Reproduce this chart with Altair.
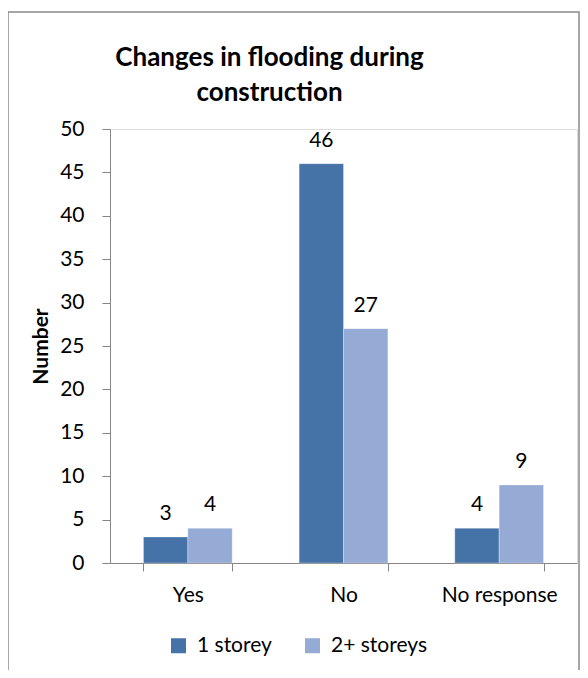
import altair as alt
import pandas as pd

categories = ["Yes", "No", "No response"]
series = ["1 storey", "2+ storeys"]
one_storey = [3, 46, 4]
two_plus = [4, 27, 9]
y_ticks = [0, 5, 10, 15, 20, 25, 30, 35, 40, 45, 50]
colors = ["#4572A7", "#95ABD5"]

rows = []
for i, c in enumerate(categories):
    rows.append({"Response": c, "Series": series[0], "Number": one_storey[i]})
    rows.append({"Response": c, "Series": series[1], "Number": two_plus[i]})
df = pd.DataFrame(rows)

FONT = "Lato"
AX = "#868686"
W, H = 467, 434

x_enc = alt.X(
    "Response:N",
    sort=categories,
    scale=alt.Scale(paddingInner=0.43, paddingOuter=0.215),
    axis=alt.Axis(
        title=None, labelAngle=0, tickBand="extent", domainColor=AX, tickColor=AX,
        tickSize=8, labelFontSize=21, labelFont=FONT, labelColor="#000000",
        labelPadding=13,
    ),
)
xo_enc = alt.XOffset("Series:N", sort=series, scale=alt.Scale(paddingInner=0, paddingOuter=0))
y_enc = alt.Y(
    "Number:Q",
    scale=alt.Scale(domain=[0, 50], nice=False),
    axis=alt.Axis(
        values=y_ticks, grid=False, title="Number", titleFont=FONT, titleFontSize=21,
        titleFontWeight="bold", titleColor="#000000", titlePadding=8,
        domainColor=AX, tickColor=AX, tickSize=8, labelFontSize=21, labelFont=FONT,
        labelColor="#000000", labelPadding=18,
    ),
)
color_enc = alt.Color(
    "Series:N",
    sort=series,
    scale=alt.Scale(domain=series, range=colors),
    legend=alt.Legend(
        title=None, orient="none", legendX=58, legendY=506, direction="horizontal",
        symbolType="square", symbolSize=225, symbolStrokeWidth=0, labelFont=FONT,
        labelFontSize=21, labelColor="#000000", labelOffset=8, columnPadding=30,
    ),
)

base = alt.Chart(df)
bars = base.mark_bar(stroke="#ffffff", strokeWidth=0.5, strokeOpacity=0.6).encode(
    x=x_enc, xOffset=xo_enc, y=y_enc, color=color_enc
)
labels = base.mark_text(baseline="alphabetic", dy=-17, fontSize=21, font=FONT, color="#000000").encode(
    x=x_enc, xOffset=xo_enc, y=y_enc, text="Number:Q"
)
frame = alt.Chart(pd.DataFrame({"f": [0]})).mark_rect(
    fill=None, stroke="#8a8a8a", strokeWidth=1.5, clip=False
).encode(
    x=alt.value(-102), x2=alt.value(469), y=alt.value(-117), y2=alt.value(560)
)

chart = alt.layer(frame, bars, labels).properties(
    width=W,
    height=H,
    autosize=alt.AutoSizeParams(type="none"),
    padding={"left": 102, "top": 121, "right": 3, "bottom": 107},
    title=alt.TitleParams(
        text=["Changes in flooding during", "construction"],
        font=FONT, fontSize=26, fontWeight="bold", color="#000000",
        anchor="middle", frame="group", dx=-74, lineHeight=35, offset=0,
        baseline="bottom", dy=121,
    ),
).configure_view(stroke=None).configure(background="#ffffff")

chart.save("out.html", embed_options={"renderer": "svg", "actions": False})
